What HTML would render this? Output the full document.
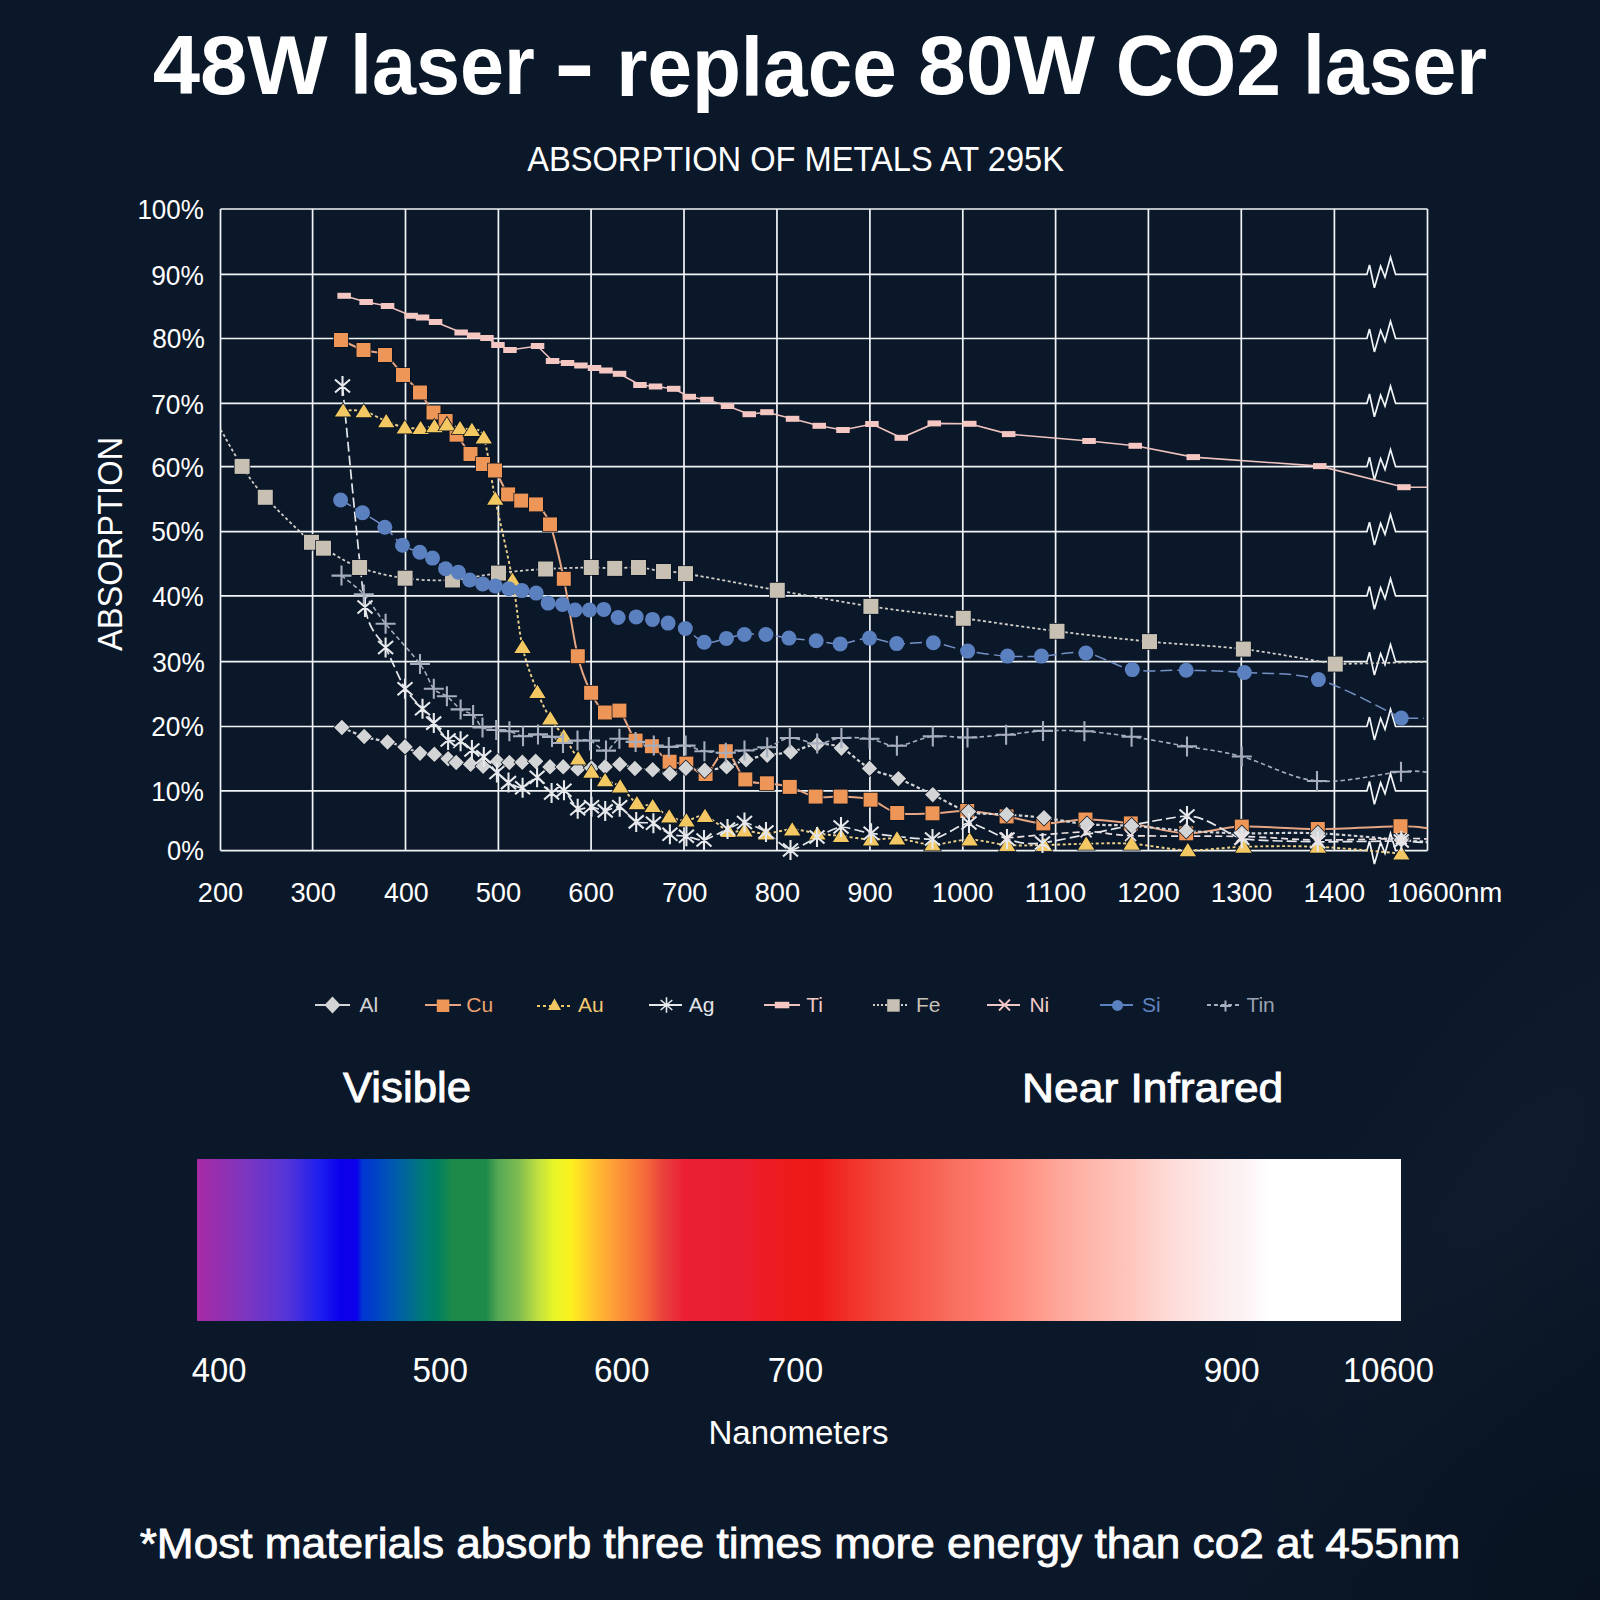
<!DOCTYPE html><html><head><meta charset="utf-8"><title>48W laser</title><style>html,body{margin:0;padding:0;background:#0b1829;}svg{display:block}text{font-family:"Liberation Sans",Arial,sans-serif;}</style></head><body>
<svg width="1600" height="1600" viewBox="0 0 1600 1600">
<defs><linearGradient id="spec" x1="197" x2="1401" y1="0" y2="0" gradientUnits="userSpaceOnUse">
<stop offset="0.0000" stop-color="#a82aa4"/>
<stop offset="0.0424" stop-color="#7a36c0"/>
<stop offset="0.0748" stop-color="#5535d8"/>
<stop offset="0.1038" stop-color="#1a1cf0"/>
<stop offset="0.1188" stop-color="#0c00ea"/>
<stop offset="0.1329" stop-color="#0c00ea"/>
<stop offset="0.1370" stop-color="#0036d2"/>
<stop offset="0.1470" stop-color="#0040c8"/>
<stop offset="0.1678" stop-color="#0060a8"/>
<stop offset="0.1869" stop-color="#00787a"/>
<stop offset="0.2002" stop-color="#008060"/>
<stop offset="0.2118" stop-color="#1e8a4a"/>
<stop offset="0.2400" stop-color="#1e8a4a"/>
<stop offset="0.2500" stop-color="#55a855"/>
<stop offset="0.2674" stop-color="#80bc50"/>
<stop offset="0.2832" stop-color="#c0e040"/>
<stop offset="0.2965" stop-color="#e8f528"/>
<stop offset="0.3106" stop-color="#fbf01e"/>
<stop offset="0.3239" stop-color="#ffcf2a"/>
<stop offset="0.3397" stop-color="#ffaa35"/>
<stop offset="0.3563" stop-color="#fb8a38"/>
<stop offset="0.3721" stop-color="#f46a3a"/>
<stop offset="0.3879" stop-color="#e8403c"/>
<stop offset="0.4045" stop-color="#ec2035"/>
<stop offset="0.4527" stop-color="#ea1e32"/>
<stop offset="0.4684" stop-color="#ec1c26"/>
<stop offset="0.4975" stop-color="#ee1a1a"/>
<stop offset="0.5150" stop-color="#ee1818"/>
<stop offset="0.5407" stop-color="#f03028"/>
<stop offset="0.5731" stop-color="#f44a3e"/>
<stop offset="0.6055" stop-color="#f85e50"/>
<stop offset="0.6296" stop-color="#f87060"/>
<stop offset="0.6537" stop-color="#fe7a6e"/>
<stop offset="0.6852" stop-color="#fe9080"/>
<stop offset="0.7176" stop-color="#fea89c"/>
<stop offset="0.7458" stop-color="#feb8ac"/>
<stop offset="0.7782" stop-color="#fec8c0"/>
<stop offset="0.8098" stop-color="#fedcd8"/>
<stop offset="0.8422" stop-color="#fceaea"/>
<stop offset="0.8746" stop-color="#fcf4f6"/>
<stop offset="0.8904" stop-color="#ffffff"/>
<stop offset="1.0000" stop-color="#ffffff"/>
</linearGradient>
<radialGradient id="glow" cx="0" cy="0" r="1" gradientUnits="userSpaceOnUse" gradientTransform="translate(1500 1200) rotate(-55) scale(480 170)"><stop offset="0" stop-color="#1a2638" stop-opacity="0.3"/><stop offset="1" stop-color="#15253b" stop-opacity="0"/></radialGradient>
<radialGradient id="dark" cx="0" cy="0" r="1" gradientUnits="userSpaceOnUse" gradientTransform="translate(1600 1600) scale(420 420)"><stop offset="0" stop-color="#050d18" stop-opacity="0.45"/><stop offset="1" stop-color="#050d18" stop-opacity="0"/></radialGradient>
</defs>
<rect width="1600" height="1600" fill="#0b1829"/>
<rect width="1600" height="1600" fill="url(#glow)"/>
<rect width="1600" height="1600" fill="url(#dark)"/>
<path d="M220.50 209.0V850.6M312.60 209.0V850.6M405.50 209.0V850.6M498.40 209.0V850.6M591.10 209.0V850.6M684.00 209.0V850.6M776.95 209.0V850.6M869.90 209.0V850.6M962.80 209.0V850.6M1055.60 209.0V850.6M1148.40 209.0V850.6M1241.30 209.0V850.6M1334.40 209.0V850.6M1427.50 209.0V850.6M220.5 209.0H1427.5M220.5 274.4H1366.9L1369.5 265.0L1374.4 287.8L1380.6 266.2L1385.0 277.2L1390.5 257.2L1395.6 274.4H1427.5M220.5 338.5H1366.9L1369.5 329.1L1374.4 351.9L1380.6 330.3L1385.0 341.3L1390.5 321.3L1395.6 338.5H1427.5M220.5 403.4H1366.9L1369.5 394.0L1374.4 416.8L1380.6 395.2L1385.0 406.2L1390.5 386.2L1395.6 403.4H1427.5M220.5 466.7H1366.9L1369.5 457.3L1374.4 480.1L1380.6 458.5L1385.0 469.5L1390.5 449.5L1395.6 466.7H1427.5M220.5 531.6H1366.9L1369.5 522.2L1374.4 545.0L1380.6 523.4L1385.0 534.4L1390.5 514.4L1395.6 531.6H1427.5M220.5 595.9H1366.9L1369.5 586.5L1374.4 609.3L1380.6 587.7L1385.0 598.7L1390.5 578.7L1395.6 595.9H1427.5M220.5 661.7H1366.9L1369.5 652.3L1374.4 675.1L1380.6 653.5L1385.0 664.5L1390.5 644.5L1395.6 661.7H1427.5M220.5 726.5H1366.9L1369.5 717.1L1374.4 739.9L1380.6 718.3L1385.0 729.3L1390.5 709.3L1395.6 726.5H1427.5M220.5 790.9H1366.9L1369.5 781.5L1374.4 804.3L1380.6 782.7L1385.0 793.7L1390.5 773.7L1395.6 790.9H1427.5M220.5 850.6H1366.9L1369.5 841.2L1374.4 864.0L1380.6 842.4L1385.0 853.4L1390.5 833.4L1395.6 850.6H1427.5" fill="none" stroke="#f2f5f8" stroke-width="1.7" stroke-linejoin="miter"/>
<text transform="translate(121.7 651.0) rotate(-90)" x="0" y="0" font-size="35.3" fill="#ffffff" textLength="214.2" lengthAdjust="spacingAndGlyphs">ABSORPTION</text>
<text x="152.70" y="94.00" font-size="84.31" font-weight="bold" fill="#ffffff" textLength="174.80" lengthAdjust="spacingAndGlyphs">48W</text>
<text x="350.00" y="94.00" font-size="83.29" font-weight="bold" fill="#ffffff" textLength="184.75" lengthAdjust="spacingAndGlyphs">laser</text>
<text x="554.00" y="92.50" font-size="86.78" font-weight="bold" fill="#ffffff" textLength="41.00" lengthAdjust="spacingAndGlyphs">-</text>
<text x="616.25" y="95.50" font-size="83.89" font-weight="bold" fill="#ffffff" textLength="280.50" lengthAdjust="spacingAndGlyphs">replace</text>
<text x="918.00" y="94.00" font-size="84.31" font-weight="bold" fill="#ffffff" textLength="176.80" lengthAdjust="spacingAndGlyphs">80W</text>
<text x="1115.80" y="95.00" font-size="86.00" font-weight="bold" fill="#ffffff" textLength="165.20" lengthAdjust="spacingAndGlyphs">CO2</text>
<text x="1303.00" y="94.00" font-size="83.29" font-weight="bold" fill="#ffffff" textLength="184.00" lengthAdjust="spacingAndGlyphs">laser</text>
<text x="527.20" y="171.40" font-size="34.80" fill="#ffffff" textLength="536.80" lengthAdjust="spacingAndGlyphs">ABSORPTION OF METALS AT 295K</text>
<text x="343.00" y="1102.20" font-size="41.95" fill="#ffffff" stroke="#ffffff" stroke-width="0.9" textLength="128.00" lengthAdjust="spacingAndGlyphs">Visible</text>
<text x="1022.10" y="1102.10" font-size="40.39" fill="#ffffff" stroke="#ffffff" stroke-width="0.9" textLength="261.15" lengthAdjust="spacingAndGlyphs">Near Infrared</text>
<text x="708.40" y="1443.75" font-size="34.05" fill="#ffffff" textLength="180.10" lengthAdjust="spacingAndGlyphs">Nanometers</text>
<text x="139.70" y="1557.50" font-size="42.19" fill="#ffffff" stroke="#ffffff" stroke-width="0.8" textLength="1320.50" lengthAdjust="spacingAndGlyphs">*Most materials absorb three times more energy than co2 at 455nm</text>
<text x="137.40" y="218.90" font-size="28.20" fill="#ffffff" textLength="66.40" lengthAdjust="spacingAndGlyphs">100%</text>
<text x="151.20" y="284.50" font-size="28.20" fill="#ffffff" textLength="52.60" lengthAdjust="spacingAndGlyphs">90%</text>
<text x="152.20" y="348.40" font-size="28.20" fill="#ffffff" textLength="52.60" lengthAdjust="spacingAndGlyphs">80%</text>
<text x="151.20" y="413.50" font-size="28.20" fill="#ffffff" textLength="52.60" lengthAdjust="spacingAndGlyphs">70%</text>
<text x="151.20" y="477.20" font-size="28.20" fill="#ffffff" textLength="52.60" lengthAdjust="spacingAndGlyphs">60%</text>
<text x="151.20" y="541.30" font-size="28.20" fill="#ffffff" textLength="52.60" lengthAdjust="spacingAndGlyphs">50%</text>
<text x="152.20" y="606.00" font-size="28.20" fill="#ffffff" textLength="51.60" lengthAdjust="spacingAndGlyphs">40%</text>
<text x="152.20" y="672.20" font-size="28.20" fill="#ffffff" textLength="52.60" lengthAdjust="spacingAndGlyphs">30%</text>
<text x="151.20" y="736.40" font-size="28.20" fill="#ffffff" textLength="52.60" lengthAdjust="spacingAndGlyphs">20%</text>
<text x="151.20" y="801.00" font-size="28.20" fill="#ffffff" textLength="52.60" lengthAdjust="spacingAndGlyphs">10%</text>
<text x="167.00" y="860.30" font-size="28.20" fill="#ffffff" textLength="36.80" lengthAdjust="spacingAndGlyphs">0%</text>
<text x="197.75" y="902.30" font-size="28.50" fill="#ffffff" textLength="45.50" lengthAdjust="spacingAndGlyphs">200</text>
<text x="290.40" y="902.30" font-size="28.50" fill="#ffffff" textLength="45.50" lengthAdjust="spacingAndGlyphs">300</text>
<text x="384.05" y="902.30" font-size="28.50" fill="#ffffff" textLength="44.50" lengthAdjust="spacingAndGlyphs">400</text>
<text x="475.70" y="902.30" font-size="28.50" fill="#ffffff" textLength="45.50" lengthAdjust="spacingAndGlyphs">500</text>
<text x="568.35" y="902.30" font-size="28.50" fill="#ffffff" textLength="45.50" lengthAdjust="spacingAndGlyphs">600</text>
<text x="662.00" y="902.30" font-size="28.50" fill="#ffffff" textLength="45.50" lengthAdjust="spacingAndGlyphs">700</text>
<text x="754.65" y="902.30" font-size="28.50" fill="#ffffff" textLength="45.50" lengthAdjust="spacingAndGlyphs">800</text>
<text x="847.30" y="902.30" font-size="28.50" fill="#ffffff" textLength="45.50" lengthAdjust="spacingAndGlyphs">900</text>
<text x="931.85" y="902.30" font-size="28.50" fill="#ffffff" textLength="61.70" lengthAdjust="spacingAndGlyphs">1000</text>
<text x="1024.50" y="902.30" font-size="28.50" fill="#ffffff" textLength="61.70" lengthAdjust="spacingAndGlyphs">1100</text>
<text x="1117.15" y="902.30" font-size="28.50" fill="#ffffff" textLength="62.70" lengthAdjust="spacingAndGlyphs">1200</text>
<text x="1210.80" y="902.30" font-size="28.50" fill="#ffffff" textLength="61.70" lengthAdjust="spacingAndGlyphs">1300</text>
<text x="1303.45" y="902.30" font-size="28.50" fill="#ffffff" textLength="61.70" lengthAdjust="spacingAndGlyphs">1400</text>
<text x="1387.00" y="902.30" font-size="28.50" fill="#ffffff" textLength="115.30" lengthAdjust="spacingAndGlyphs">10600nm</text>
<text x="191.75" y="1382.10" font-size="35.07" fill="#ffffff" textLength="54.65" lengthAdjust="spacingAndGlyphs">400</text>
<text x="412.60" y="1382.10" font-size="35.07" fill="#ffffff" textLength="55.50" lengthAdjust="spacingAndGlyphs">500</text>
<text x="594.00" y="1382.10" font-size="35.07" fill="#ffffff" textLength="55.60" lengthAdjust="spacingAndGlyphs">600</text>
<text x="767.75" y="1382.10" font-size="35.07" fill="#ffffff" textLength="55.35" lengthAdjust="spacingAndGlyphs">700</text>
<text x="1203.70" y="1382.10" font-size="35.07" fill="#ffffff" textLength="55.90" lengthAdjust="spacingAndGlyphs">900</text>
<text x="1343.00" y="1382.10" font-size="35.07" fill="#ffffff" textLength="91.00" lengthAdjust="spacingAndGlyphs">10600</text>
<path d="M344.2 295.8L366.2 302.0L387.5 306.0L411.2 315.8L422.5 317.5L435.5 322.0L461.2 332.5L473.7 335.5L487.0 338.0L498.0 345.0L510.0 350.0L537.5 346.0L552.5 361.0L567.5 363.0L581.0 365.5L594.5 368.0L606.0 370.5L619.5 373.8L640.0 385.0L655.5 386.5L673.8 388.8L689.2 396.8L707.0 399.8L727.5 406.0L749.2 414.2L767.0 412.2L792.5 418.8L819.2 425.8L843.0 430.0L872.0 424.0L901.3 437.8L934.3 423.4L969.7 423.8L1008.6 434.1L1089.1 441.0L1135.2 445.8L1193.2 457.1L1319.7 466.1L1404.0 487.2L1427.5 487.2" fill="none" stroke="#eec3bf" stroke-width="1.6"/>
<path d="M220.7 429.6C224.3 435.7 234.7 455.1 242.1 466.4C249.5 477.7 253.7 484.6 265.3 497.2C276.9 509.9 301.8 533.8 311.5 542.3C321.2 550.8 315.5 544.0 323.5 548.2C331.5 552.4 346.0 562.5 359.6 567.5C373.2 572.5 389.6 576.1 405.1 578.2C420.6 580.3 436.9 580.9 452.5 580.0C468.1 579.1 483.0 574.9 498.5 573.1C514.0 571.3 530.1 569.9 545.6 569.0C561.1 568.1 579.7 567.6 591.2 567.5C602.8 567.4 606.9 568.4 614.8 568.4C622.6 568.4 630.4 567.0 638.5 567.5C646.6 568.0 655.7 570.5 663.5 571.5C671.3 572.5 666.5 570.5 685.5 573.6C704.5 576.7 746.4 584.8 777.3 590.3C808.2 595.8 839.9 601.7 870.9 606.4C901.9 611.1 932.3 614.2 963.3 618.3C994.3 622.4 1026.0 627.4 1057.0 631.2C1088.0 635.1 1118.4 638.6 1149.5 641.6C1180.6 644.6 1212.4 645.4 1243.4 649.1C1274.4 652.9 1320.0 661.6 1335.3 664.1L1427.5 661.8" fill="none" stroke="#d2cec7" stroke-width="1.8" stroke-dasharray="3 2.5"/>
<path d="M341.0 340.0C344.8 341.7 356.2 347.5 363.5 350.0C370.8 352.5 378.4 350.8 385.0 355.0C391.6 359.2 397.2 368.8 403.0 375.0C408.8 381.2 414.9 386.2 420.0 392.5C425.1 398.8 429.2 407.8 433.5 412.5C437.8 417.2 441.8 417.3 445.6 421.0C449.5 424.7 452.5 429.2 456.6 434.7C460.8 440.2 466.1 449.1 470.5 454.0C474.9 458.9 478.9 461.2 483.0 464.0C487.1 466.8 490.8 465.4 495.0 470.5C499.2 475.6 503.7 489.4 508.1 494.4C512.5 499.4 516.6 498.9 521.2 500.6C525.9 502.3 531.2 500.4 536.0 504.4C540.8 508.4 545.4 512.0 550.0 524.4C554.6 536.8 559.1 556.8 563.8 578.8C568.4 600.7 573.2 637.2 577.8 656.2C582.3 675.3 586.6 683.4 591.1 692.8C595.6 702.2 600.3 709.5 605.0 712.5C609.7 715.5 614.3 705.9 619.4 710.6C624.5 715.3 630.2 734.7 635.6 740.6C641.0 746.5 646.2 742.7 651.9 746.2C657.6 749.8 663.9 758.8 669.6 761.7C675.3 764.6 680.3 761.6 686.3 763.6C692.3 765.6 699.0 776.1 705.6 774.0C712.2 771.9 719.2 750.4 725.8 751.2C732.4 752.1 738.4 774.1 745.3 779.4C752.1 784.7 759.5 782.0 766.9 783.3C774.3 784.5 781.7 784.7 789.8 786.9C797.9 789.1 807.1 795.0 815.6 796.6C824.1 798.2 831.4 796.1 840.6 796.6C849.8 797.1 861.2 797.0 870.6 799.7C880.0 802.4 886.9 810.7 897.2 813.0C907.5 815.3 920.8 813.6 932.5 813.3C944.2 813.0 954.9 810.5 967.2 811.0C979.6 811.5 993.9 814.3 1006.6 816.4C1019.3 818.5 1030.1 822.9 1043.3 823.4C1056.5 823.9 1070.9 819.5 1085.5 819.5C1100.1 819.5 1114.0 821.1 1130.8 823.4C1147.6 825.7 1167.7 832.8 1186.2 833.3C1204.7 833.8 1219.9 827.3 1241.8 826.6C1263.7 825.9 1291.3 829.1 1317.8 829.0C1344.2 828.9 1382.2 826.3 1400.5 826.2C1418.8 826.1 1423.0 827.9 1427.5 828.2" fill="none" stroke="#e7a582" stroke-width="2"/>
<path d="M341.9 727.5C345.6 729.0 356.6 734.1 364.2 736.5C371.8 738.9 380.7 740.3 387.5 742.0C394.3 743.7 399.6 745.0 405.0 746.9C410.4 748.8 415.1 751.9 420.0 753.1C424.9 754.4 429.7 753.5 434.4 754.4C439.1 755.3 444.5 757.4 448.1 758.8C451.7 760.1 452.5 761.6 456.2 762.5C460.0 763.4 466.1 763.8 470.6 764.4C475.1 765.0 478.6 766.8 483.1 766.2C487.6 765.7 493.1 761.9 497.5 761.2C501.9 760.6 505.3 762.3 509.4 762.5C513.5 762.7 517.9 762.4 522.3 762.2C526.7 762.0 531.0 760.5 535.6 761.2C540.2 762.0 545.4 766.0 550.0 766.9C554.6 767.8 558.6 766.6 563.2 766.9C567.9 767.2 573.2 768.7 577.9 768.9C582.6 769.1 587.0 768.3 591.5 768.0C596.0 767.7 600.4 767.5 605.1 766.9C609.8 766.3 614.8 764.0 619.8 764.3C624.8 764.6 629.4 767.6 634.9 768.5C640.4 769.4 646.8 768.9 652.6 769.8C658.4 770.7 664.4 774.0 669.9 773.8C675.4 773.5 680.1 768.8 685.9 768.2C691.7 767.6 697.9 770.4 704.7 770.2C711.5 770.0 719.7 768.6 726.6 766.9C733.5 765.2 739.3 761.8 746.1 759.8C752.9 757.8 759.8 756.5 767.2 755.2C774.6 753.9 782.3 753.8 790.6 752.0C798.9 750.2 808.7 744.9 817.2 744.2C825.7 743.6 832.7 744.1 841.4 748.1C850.1 752.1 860.0 763.3 869.5 768.4C879.0 773.5 887.9 774.2 898.4 778.6C908.9 783.0 921.1 789.1 932.8 794.6C944.5 800.1 956.2 808.3 968.5 811.6C980.8 814.9 994.0 813.5 1006.6 814.5C1019.2 815.5 1030.6 816.2 1044.0 817.8C1057.4 819.4 1072.4 822.9 1087.0 824.2C1101.6 825.5 1115.1 824.7 1131.6 825.8C1148.1 826.9 1167.8 829.5 1186.2 830.8C1204.6 832.0 1219.9 832.9 1241.8 833.3C1263.7 833.7 1291.2 832.2 1317.8 833.3C1344.4 834.4 1383.0 838.5 1401.3 840.0C1419.6 841.5 1423.1 841.7 1427.5 842.0" fill="none" stroke="#d3d4d6" stroke-width="2.2" stroke-dasharray="3.5 2.5"/>
<path d="M343.1 410.6C346.5 410.7 356.6 409.5 363.8 411.2C370.9 413.0 379.4 418.5 386.2 421.2C393.1 424.0 399.0 426.4 404.8 427.5C410.5 428.6 415.7 428.3 420.6 428.1C425.5 427.9 430.0 426.9 434.4 426.2C438.8 425.6 442.6 424.1 446.9 424.4C451.2 424.7 455.8 427.2 460.0 428.1C464.2 429.0 467.9 428.4 471.9 430.0C475.9 431.6 479.9 426.0 483.8 437.5C487.6 449.0 490.5 475.0 495.2 498.8C500.0 522.5 508.0 555.3 512.5 580.0C517.0 604.7 518.4 628.2 522.5 646.9C526.6 665.5 532.8 680.0 537.4 691.9C542.0 703.8 545.9 711.1 550.3 718.5C554.7 725.9 559.1 729.6 563.8 736.2C568.4 742.9 573.6 752.6 578.2 758.5C582.8 764.4 586.9 768.2 591.4 771.8C595.9 775.4 600.3 777.8 605.1 780.3C609.9 782.8 614.9 782.7 620.2 786.5C625.5 790.3 631.5 800.0 636.9 803.3C642.3 806.6 647.3 803.9 652.7 806.1C658.1 808.3 663.6 814.0 669.2 816.4C674.8 818.8 680.4 820.6 686.4 820.5C692.4 820.4 698.0 814.2 705.0 816.0C712.0 817.8 721.9 828.6 728.5 831.0C735.1 833.4 738.2 830.1 744.5 830.5C750.8 830.9 758.0 833.7 766.0 833.5C774.0 833.3 783.6 829.4 792.2 829.4C800.8 829.4 809.3 832.4 817.4 833.5C825.5 834.6 832.0 835.0 841.0 836.0C850.0 837.0 861.8 839.1 871.1 839.5C880.4 839.9 886.8 837.7 897.0 838.5C907.2 839.3 920.4 844.3 932.5 844.5C944.6 844.7 957.1 839.5 969.6 839.6C982.1 839.7 994.8 844.1 1007.2 845.0C1019.6 845.9 1030.8 845.2 1044.0 845.0C1057.2 844.8 1071.7 844.0 1086.2 843.8C1100.8 843.5 1114.7 842.7 1131.6 843.8C1148.5 844.8 1169.1 849.7 1187.8 850.2C1206.5 850.7 1221.8 847.4 1243.5 846.8C1265.2 846.2 1291.5 845.7 1317.8 846.8C1344.1 847.9 1387.4 852.5 1401.3 853.6" fill="none" stroke="#efd08a" stroke-width="1.9" stroke-dasharray="3 2.5"/>
<path d="M342.5 386.0C344.8 408.1 360.7 580.9 365.0 607.0C369.3 633.1 381.6 639.3 385.6 647.5C389.6 655.7 401.3 682.6 405.0 688.8C408.7 694.9 419.6 705.3 422.5 708.8C425.4 712.2 431.2 720.0 433.8 723.1C436.3 726.2 445.4 738.2 448.1 740.0C450.8 741.8 458.2 740.2 460.6 741.2C463.0 742.2 469.6 748.4 471.9 750.0C474.2 751.6 481.2 754.6 483.8 756.9C486.2 759.1 494.4 769.9 496.9 772.5C499.4 775.1 505.9 781.1 508.5 782.6C511.1 784.1 519.7 788.3 522.6 787.8C525.5 787.3 534.2 776.7 537.1 777.2C540.0 777.7 548.9 791.7 551.6 793.0C554.3 794.3 561.4 788.7 564.0 790.3C566.6 791.9 575.0 807.1 577.7 808.8C580.5 810.4 588.8 806.6 591.5 806.8C594.2 807.0 602.4 810.9 605.2 810.9C608.0 810.9 616.6 805.7 619.7 806.8C622.8 807.9 632.8 820.2 636.2 821.9C639.6 823.5 650.0 822.1 653.4 823.3C656.8 824.5 666.6 833.0 669.9 834.3C673.2 835.6 683.0 835.7 686.4 836.3C689.8 836.9 699.9 840.7 704.0 840.0C708.1 839.3 723.5 830.8 727.5 829.0C731.5 827.2 740.6 822.2 744.5 822.5C748.4 822.8 761.4 829.2 766.0 832.0C770.6 834.8 785.4 849.5 790.5 850.0C795.6 850.5 812.0 839.3 817.0 837.0C822.0 834.7 835.6 827.4 841.0 827.0C846.4 826.6 862.0 832.1 871.1 833.3C880.2 834.5 922.7 840.0 932.5 839.0C942.3 838.0 961.5 823.0 969.0 823.0C976.5 823.0 999.6 837.0 1007.0 839.0C1014.4 841.0 1024.5 845.3 1042.5 843.0C1060.5 840.7 1167.1 816.5 1187.0 816.0C1206.9 815.5 1228.7 835.8 1241.8 838.4C1254.9 841.0 1301.8 841.5 1317.8 841.8C1333.8 842.0 1390.3 840.9 1401.3 841.0C1412.3 841.1 1424.9 842.8 1427.5 843.0" fill="none" stroke="#e6e8ec" stroke-width="1.7" stroke-dasharray="10 4"/>
<path d="M1006.6 838.0C1019.9 837.0 1065.4 832.3 1086.1 831.9C1106.8 831.5 1104.6 834.8 1130.6 835.6C1156.5 836.4 1210.6 835.8 1241.8 836.5C1273.0 837.2 1291.2 839.7 1317.8 840.0C1344.4 840.3 1383.0 838.7 1401.3 838.5C1419.6 838.3 1423.1 838.9 1427.5 839.0" fill="none" stroke="#ece0e2" stroke-width="1.7" stroke-dasharray="7 4"/>
<path d="M340.6 500.0C344.2 502.1 355.1 508.2 362.5 512.8C369.9 517.3 378.1 521.8 384.8 527.2C391.4 532.7 396.7 541.1 402.5 545.2C408.3 549.4 414.8 550.1 419.8 552.2C424.8 554.4 428.2 555.4 432.5 558.1C436.8 560.8 441.3 566.4 445.6 568.7C449.9 571.1 454.4 570.3 458.4 572.2C462.4 574.1 465.7 578.0 469.7 580.0C473.7 582.0 478.3 582.9 482.6 583.9C486.9 584.9 490.9 585.1 495.3 585.9C499.7 586.7 504.3 587.9 508.8 588.7C513.2 589.5 517.3 589.9 521.9 590.6C526.5 591.3 531.9 591.0 536.2 593.1C540.6 595.2 543.7 601.2 548.1 603.1C552.5 605.0 558.0 603.2 562.5 604.4C567.0 605.5 570.5 609.1 575.0 610.0C579.5 610.9 584.6 610.1 589.4 610.0C594.2 609.9 599.0 608.1 603.8 609.4C608.5 610.6 612.7 616.2 618.1 617.5C623.5 618.8 630.5 616.6 636.2 616.9C642.0 617.2 647.2 618.4 652.5 619.4C657.8 620.4 662.6 621.6 668.1 623.1C673.6 624.6 679.3 625.3 685.3 628.5C691.3 631.7 697.4 640.6 704.2 642.3C711.1 643.9 719.7 639.7 726.4 638.4C733.1 637.1 737.8 635.1 744.4 634.5C751.0 633.9 758.5 633.9 765.9 634.5C773.3 635.1 780.5 637.1 788.9 638.1C797.3 639.1 807.7 639.8 816.2 640.8C824.8 641.8 831.3 644.3 840.2 643.9C849.1 643.5 860.1 638.1 869.5 638.1C878.9 638.1 886.1 642.8 896.7 643.6C907.3 644.4 921.5 641.5 933.3 642.8C945.1 644.0 955.3 648.9 967.7 651.1C980.1 653.3 995.2 655.3 1007.5 656.1C1019.8 656.9 1028.3 656.6 1041.4 656.1C1054.5 655.6 1070.8 650.8 1085.9 653.0C1101.1 655.2 1115.6 666.7 1132.3 669.6C1149.0 672.5 1167.6 669.8 1186.2 670.2C1204.9 670.7 1222.4 670.9 1244.4 672.5C1266.4 674.1 1292.2 672.0 1318.4 679.6C1344.6 687.2 1387.5 711.7 1401.3 718.1L1424.0 718.3" fill="none" stroke="#7590c6" stroke-width="1.5" stroke-dasharray="12 5"/>
<path d="M341.5 575.6C345.2 578.7 356.4 586.4 363.8 594.4C371.1 602.4 376.2 612.1 385.6 623.8C395.0 635.4 412.0 653.2 420.0 664.0C428.0 674.8 429.3 683.4 433.8 688.8C438.2 694.1 442.4 692.8 446.9 696.2C451.4 699.7 456.2 706.3 460.6 709.4C465.0 712.5 469.5 712.0 473.1 715.0C476.8 718.0 478.6 725.0 482.5 727.5C486.4 730.0 491.8 729.4 496.2 730.0C500.7 730.6 504.9 730.2 509.4 731.2C513.9 732.3 518.2 735.7 523.0 736.2C527.8 736.8 533.2 734.3 538.0 734.4C542.8 734.5 547.8 735.5 552.0 736.9C556.2 738.3 558.8 742.4 563.0 743.0C567.2 743.6 573.0 741.0 577.5 740.6C582.0 740.2 585.2 738.9 590.0 740.6C594.8 742.3 601.1 750.9 606.0 750.6C610.9 750.3 614.5 740.2 619.4 738.8C624.3 737.3 629.9 740.8 635.6 741.9C641.3 743.0 648.2 744.8 653.8 745.6C659.3 746.4 663.4 746.9 668.8 746.9C674.1 746.9 679.7 744.9 685.6 745.6C691.5 746.3 697.7 750.0 704.4 751.2C711.1 752.5 719.1 752.9 725.8 752.8C732.5 752.7 737.6 751.4 744.5 750.5C751.4 749.6 759.7 749.4 767.2 747.3C774.8 745.2 781.5 738.6 789.8 738.0C798.1 737.4 808.6 743.4 817.2 743.4C825.8 743.4 832.7 738.8 841.4 738.0C850.1 737.2 860.2 737.5 869.5 738.8C878.8 740.0 886.4 746.2 896.9 745.8C907.4 745.4 921.0 737.8 932.8 736.4C944.6 735.0 955.3 737.8 967.5 737.5C979.7 737.2 993.5 735.8 1006.1 734.7C1018.7 733.6 1030.0 731.5 1043.0 730.9C1056.0 730.3 1069.6 730.3 1084.4 731.2C1099.2 732.2 1114.5 734.2 1131.6 736.7C1148.7 739.2 1168.6 743.1 1187.0 746.4C1205.4 749.7 1220.1 750.7 1241.8 756.5C1263.5 762.3 1290.5 778.5 1317.0 781.0C1343.5 783.5 1382.6 773.2 1401.0 771.7C1419.4 770.2 1423.1 772.1 1427.5 772.2" fill="none" stroke="#a6adbd" stroke-width="1.6" stroke-dasharray="4.5 3"/>
<rect x="337.4" y="292.8" width="13.5" height="6.0" fill="#f5c7c3"/><rect x="359.4" y="299.0" width="13.5" height="6.0" fill="#f5c7c3"/><rect x="380.8" y="303.0" width="13.5" height="6.0" fill="#f5c7c3"/><rect x="404.4" y="312.8" width="13.5" height="6.0" fill="#f5c7c3"/><rect x="415.8" y="314.5" width="13.5" height="6.0" fill="#f5c7c3"/><rect x="428.8" y="319.0" width="13.5" height="6.0" fill="#f5c7c3"/><rect x="454.4" y="329.5" width="13.5" height="6.0" fill="#f5c7c3"/><rect x="466.9" y="332.5" width="13.5" height="6.0" fill="#f5c7c3"/><rect x="480.2" y="335.0" width="13.5" height="6.0" fill="#f5c7c3"/><rect x="491.2" y="342.0" width="13.5" height="6.0" fill="#f5c7c3"/><rect x="503.2" y="347.0" width="13.5" height="6.0" fill="#f5c7c3"/><rect x="530.8" y="343.0" width="13.5" height="6.0" fill="#f5c7c3"/><rect x="545.8" y="358.0" width="13.5" height="6.0" fill="#f5c7c3"/><rect x="560.8" y="360.0" width="13.5" height="6.0" fill="#f5c7c3"/><rect x="574.2" y="362.5" width="13.5" height="6.0" fill="#f5c7c3"/><rect x="587.8" y="365.0" width="13.5" height="6.0" fill="#f5c7c3"/><rect x="599.2" y="367.5" width="13.5" height="6.0" fill="#f5c7c3"/><rect x="612.8" y="370.8" width="13.5" height="6.0" fill="#f5c7c3"/><rect x="633.2" y="382.0" width="13.5" height="6.0" fill="#f5c7c3"/><rect x="648.8" y="383.5" width="13.5" height="6.0" fill="#f5c7c3"/><rect x="667.0" y="385.8" width="13.5" height="6.0" fill="#f5c7c3"/><rect x="682.5" y="393.8" width="13.5" height="6.0" fill="#f5c7c3"/><rect x="700.2" y="396.8" width="13.5" height="6.0" fill="#f5c7c3"/><rect x="720.8" y="403.0" width="13.5" height="6.0" fill="#f5c7c3"/><rect x="742.5" y="411.2" width="13.5" height="6.0" fill="#f5c7c3"/><rect x="760.2" y="409.2" width="13.5" height="6.0" fill="#f5c7c3"/><rect x="785.8" y="415.8" width="13.5" height="6.0" fill="#f5c7c3"/><rect x="812.5" y="422.8" width="13.5" height="6.0" fill="#f5c7c3"/><rect x="836.2" y="427.0" width="13.5" height="6.0" fill="#f5c7c3"/><rect x="865.2" y="421.0" width="13.5" height="6.0" fill="#f5c7c3"/><rect x="894.5" y="434.8" width="13.5" height="6.0" fill="#f5c7c3"/><rect x="927.5" y="420.4" width="13.5" height="6.0" fill="#f5c7c3"/><rect x="963.0" y="420.8" width="13.5" height="6.0" fill="#f5c7c3"/><rect x="1001.9" y="431.1" width="13.5" height="6.0" fill="#f5c7c3"/><rect x="1082.3" y="438.0" width="13.5" height="6.0" fill="#f5c7c3"/><rect x="1128.5" y="442.8" width="13.5" height="6.0" fill="#f5c7c3"/><rect x="1186.5" y="454.1" width="13.5" height="6.0" fill="#f5c7c3"/><rect x="1313.0" y="463.1" width="13.5" height="6.0" fill="#f5c7c3"/><rect x="1397.2" y="484.2" width="13.5" height="6.0" fill="#f5c7c3"/>
<g stroke="#07111f" stroke-width="1.4" paint-order="stroke" stroke-linejoin="miter">
<rect x="234.6" y="458.9" width="15.0" height="15.0" fill="#c7c0b3"/><rect x="257.8" y="489.8" width="15.0" height="15.0" fill="#c7c0b3"/><rect x="304.0" y="534.8" width="15.0" height="15.0" fill="#c7c0b3"/><rect x="316.0" y="540.7" width="15.0" height="15.0" fill="#c7c0b3"/><rect x="352.1" y="560.0" width="15.0" height="15.0" fill="#c7c0b3"/><rect x="397.6" y="570.7" width="15.0" height="15.0" fill="#c7c0b3"/><rect x="445.0" y="572.5" width="15.0" height="15.0" fill="#c7c0b3"/><rect x="491.0" y="565.6" width="15.0" height="15.0" fill="#c7c0b3"/><rect x="538.1" y="561.5" width="15.0" height="15.0" fill="#c7c0b3"/><rect x="583.8" y="560.0" width="15.0" height="15.0" fill="#c7c0b3"/><rect x="607.2" y="560.9" width="15.0" height="15.0" fill="#c7c0b3"/><rect x="631.0" y="560.0" width="15.0" height="15.0" fill="#c7c0b3"/><rect x="656.0" y="564.0" width="15.0" height="15.0" fill="#c7c0b3"/><rect x="678.0" y="566.1" width="15.0" height="15.0" fill="#c7c0b3"/><rect x="769.8" y="582.8" width="15.0" height="15.0" fill="#c7c0b3"/><rect x="863.4" y="598.9" width="15.0" height="15.0" fill="#c7c0b3"/><rect x="955.8" y="610.8" width="15.0" height="15.0" fill="#c7c0b3"/><rect x="1049.5" y="623.8" width="15.0" height="15.0" fill="#c7c0b3"/><rect x="1142.0" y="634.1" width="15.0" height="15.0" fill="#c7c0b3"/><rect x="1235.9" y="641.6" width="15.0" height="15.0" fill="#c7c0b3"/><rect x="1327.8" y="656.6" width="15.0" height="15.0" fill="#c7c0b3"/>
<rect x="334.0" y="333.0" width="14.0" height="14.0" fill="#ee9657"/><rect x="356.5" y="343.0" width="14.0" height="14.0" fill="#ee9657"/><rect x="378.0" y="348.0" width="14.0" height="14.0" fill="#ee9657"/><rect x="396.0" y="368.0" width="14.0" height="14.0" fill="#ee9657"/><rect x="413.0" y="385.5" width="14.0" height="14.0" fill="#ee9657"/><rect x="426.5" y="405.5" width="14.0" height="14.0" fill="#ee9657"/><rect x="438.6" y="414.0" width="14.0" height="14.0" fill="#ee9657"/><rect x="449.6" y="427.7" width="14.0" height="14.0" fill="#ee9657"/><rect x="463.5" y="447.0" width="14.0" height="14.0" fill="#ee9657"/><rect x="476.0" y="457.0" width="14.0" height="14.0" fill="#ee9657"/><rect x="488.0" y="463.5" width="14.0" height="14.0" fill="#ee9657"/><rect x="501.1" y="487.4" width="14.0" height="14.0" fill="#ee9657"/><rect x="514.2" y="493.6" width="14.0" height="14.0" fill="#ee9657"/><rect x="529.0" y="497.4" width="14.0" height="14.0" fill="#ee9657"/><rect x="543.0" y="517.4" width="14.0" height="14.0" fill="#ee9657"/><rect x="556.8" y="571.8" width="14.0" height="14.0" fill="#ee9657"/><rect x="570.8" y="649.2" width="14.0" height="14.0" fill="#ee9657"/><rect x="584.1" y="685.8" width="14.0" height="14.0" fill="#ee9657"/><rect x="598.0" y="705.5" width="14.0" height="14.0" fill="#ee9657"/><rect x="612.4" y="703.6" width="14.0" height="14.0" fill="#ee9657"/><rect x="628.6" y="733.6" width="14.0" height="14.0" fill="#ee9657"/><rect x="644.9" y="739.2" width="14.0" height="14.0" fill="#ee9657"/><rect x="662.6" y="754.7" width="14.0" height="14.0" fill="#ee9657"/><rect x="679.3" y="756.6" width="14.0" height="14.0" fill="#ee9657"/><rect x="698.6" y="767.0" width="14.0" height="14.0" fill="#ee9657"/><rect x="718.8" y="744.2" width="14.0" height="14.0" fill="#ee9657"/><rect x="738.3" y="772.4" width="14.0" height="14.0" fill="#ee9657"/><rect x="759.9" y="776.3" width="14.0" height="14.0" fill="#ee9657"/><rect x="782.8" y="779.9" width="14.0" height="14.0" fill="#ee9657"/><rect x="808.6" y="789.6" width="14.0" height="14.0" fill="#ee9657"/><rect x="833.6" y="789.6" width="14.0" height="14.0" fill="#ee9657"/><rect x="863.6" y="792.7" width="14.0" height="14.0" fill="#ee9657"/><rect x="890.2" y="806.0" width="14.0" height="14.0" fill="#ee9657"/><rect x="925.5" y="806.3" width="14.0" height="14.0" fill="#ee9657"/><rect x="960.2" y="804.0" width="14.0" height="14.0" fill="#ee9657"/><rect x="999.6" y="809.4" width="14.0" height="14.0" fill="#ee9657"/><rect x="1036.3" y="816.4" width="14.0" height="14.0" fill="#ee9657"/><rect x="1078.5" y="812.5" width="14.0" height="14.0" fill="#ee9657"/><rect x="1123.8" y="816.4" width="14.0" height="14.0" fill="#ee9657"/><rect x="1179.2" y="826.3" width="14.0" height="14.0" fill="#ee9657"/><rect x="1234.8" y="819.6" width="14.0" height="14.0" fill="#ee9657"/><rect x="1310.8" y="822.0" width="14.0" height="14.0" fill="#ee9657"/><rect x="1393.5" y="819.2" width="14.0" height="14.0" fill="#ee9657"/>
<path d="M341.9 719.8L349.6 727.5L341.9 735.2L334.1 727.5Z" fill="#d3d4d6"/><path d="M364.2 728.8L371.9 736.5L364.2 744.2L356.4 736.5Z" fill="#d3d4d6"/><path d="M387.5 734.2L395.2 742.0L387.5 749.8L379.8 742.0Z" fill="#d3d4d6"/><path d="M405.0 739.1L412.8 746.9L405.0 754.6L397.2 746.9Z" fill="#d3d4d6"/><path d="M420.0 745.4L427.8 753.1L420.0 760.9L412.2 753.1Z" fill="#d3d4d6"/><path d="M434.4 746.6L442.1 754.4L434.4 762.1L426.6 754.4Z" fill="#d3d4d6"/><path d="M448.1 751.0L455.9 758.8L448.1 766.5L440.4 758.8Z" fill="#d3d4d6"/><path d="M456.2 754.8L464.0 762.5L456.2 770.2L448.5 762.5Z" fill="#d3d4d6"/><path d="M470.6 756.6L478.4 764.4L470.6 772.1L462.9 764.4Z" fill="#d3d4d6"/><path d="M483.1 758.5L490.9 766.2L483.1 774.0L475.4 766.2Z" fill="#d3d4d6"/><path d="M497.5 753.5L505.2 761.2L497.5 769.0L489.8 761.2Z" fill="#d3d4d6"/><path d="M509.4 754.8L517.1 762.5L509.4 770.2L501.6 762.5Z" fill="#d3d4d6"/><path d="M522.3 754.5L530.0 762.2L522.3 770.0L514.5 762.2Z" fill="#d3d4d6"/><path d="M535.6 753.5L543.4 761.2L535.6 769.0L527.9 761.2Z" fill="#d3d4d6"/><path d="M550.0 759.1L557.8 766.9L550.0 774.6L542.2 766.9Z" fill="#d3d4d6"/><path d="M563.2 759.1L571.0 766.9L563.2 774.6L555.5 766.9Z" fill="#d3d4d6"/><path d="M577.9 761.1L585.6 768.9L577.9 776.6L570.1 768.9Z" fill="#d3d4d6"/><path d="M591.5 760.2L599.2 768.0L591.5 775.8L583.8 768.0Z" fill="#d3d4d6"/><path d="M605.1 759.1L612.9 766.9L605.1 774.6L597.4 766.9Z" fill="#d3d4d6"/><path d="M619.8 756.5L627.5 764.3L619.8 772.0L612.0 764.3Z" fill="#d3d4d6"/><path d="M634.9 760.8L642.6 768.5L634.9 776.2L627.1 768.5Z" fill="#d3d4d6"/><path d="M652.6 762.0L660.4 769.8L652.6 777.5L644.9 769.8Z" fill="#d3d4d6"/><path d="M669.9 766.0L677.6 773.8L669.9 781.5L662.1 773.8Z" fill="#d3d4d6"/><path d="M685.9 760.5L693.6 768.2L685.9 776.0L678.1 768.2Z" fill="#d3d4d6"/><path d="M704.7 762.5L712.5 770.2L704.7 778.0L697.0 770.2Z" fill="#d3d4d6"/><path d="M726.6 759.1L734.4 766.9L726.6 774.6L718.9 766.9Z" fill="#d3d4d6"/><path d="M746.1 752.0L753.9 759.8L746.1 767.5L738.4 759.8Z" fill="#d3d4d6"/><path d="M767.2 747.5L775.0 755.2L767.2 763.0L759.5 755.2Z" fill="#d3d4d6"/><path d="M790.6 744.2L798.4 752.0L790.6 759.8L782.9 752.0Z" fill="#d3d4d6"/><path d="M817.2 736.5L825.0 744.2L817.2 752.0L809.5 744.2Z" fill="#d3d4d6"/><path d="M841.4 740.4L849.1 748.1L841.4 755.9L833.6 748.1Z" fill="#d3d4d6"/><path d="M869.5 760.6L877.2 768.4L869.5 776.1L861.8 768.4Z" fill="#d3d4d6"/><path d="M898.4 770.9L906.1 778.6L898.4 786.4L890.6 778.6Z" fill="#d3d4d6"/><path d="M932.8 786.9L940.5 794.6L932.8 802.4L925.0 794.6Z" fill="#d3d4d6"/><path d="M968.5 803.9L976.2 811.6L968.5 819.4L960.8 811.6Z" fill="#d3d4d6"/><path d="M1006.6 806.8L1014.4 814.5L1006.6 822.2L998.9 814.5Z" fill="#d3d4d6"/><path d="M1044.0 810.0L1051.8 817.8L1044.0 825.5L1036.2 817.8Z" fill="#d3d4d6"/><path d="M1087.0 816.5L1094.8 824.2L1087.0 832.0L1079.2 824.2Z" fill="#d3d4d6"/><path d="M1131.6 818.0L1139.3 825.8L1131.6 833.5L1123.8 825.8Z" fill="#d3d4d6"/><path d="M1186.2 823.0L1194.0 830.8L1186.2 838.5L1178.5 830.8Z" fill="#d3d4d6"/><path d="M1241.8 825.5L1249.5 833.3L1241.8 841.0L1234.0 833.3Z" fill="#d3d4d6"/><path d="M1317.8 825.5L1325.5 833.3L1317.8 841.0L1310.0 833.3Z" fill="#d3d4d6"/><path d="M1401.3 832.2L1409.0 840.0L1401.3 847.8L1393.5 840.0Z" fill="#d3d4d6"/>
<path d="M343.1 403.4L351.3 416.6L334.9 416.6Z" fill="#f3c862"/><path d="M363.8 404.0L371.9 417.2L355.6 417.2Z" fill="#f3c862"/><path d="M386.2 414.0L394.4 427.2L378.1 427.2Z" fill="#f3c862"/><path d="M404.8 420.3L412.9 433.5L396.6 433.5Z" fill="#f3c862"/><path d="M420.6 420.9L428.8 434.1L412.4 434.1Z" fill="#f3c862"/><path d="M434.4 419.0L442.6 432.2L426.2 432.2Z" fill="#f3c862"/><path d="M446.9 417.2L455.1 430.4L438.7 430.4Z" fill="#f3c862"/><path d="M460.0 420.9L468.2 434.1L451.8 434.1Z" fill="#f3c862"/><path d="M471.9 422.8L480.1 436.0L463.7 436.0Z" fill="#f3c862"/><path d="M483.8 430.3L491.9 443.5L475.6 443.5Z" fill="#f3c862"/><path d="M495.2 491.5L503.4 504.8L487.1 504.8Z" fill="#f3c862"/><path d="M512.5 572.8L520.7 586.0L504.3 586.0Z" fill="#f3c862"/><path d="M522.5 639.7L530.7 652.9L514.3 652.9Z" fill="#f3c862"/><path d="M537.4 684.7L545.6 697.9L529.2 697.9Z" fill="#f3c862"/><path d="M550.3 711.3L558.5 724.5L542.1 724.5Z" fill="#f3c862"/><path d="M563.8 729.0L572.0 742.2L555.5 742.2Z" fill="#f3c862"/><path d="M578.2 751.3L586.4 764.5L570.0 764.5Z" fill="#f3c862"/><path d="M591.4 764.6L599.6 777.8L583.2 777.8Z" fill="#f3c862"/><path d="M605.1 773.1L613.3 786.3L596.9 786.3Z" fill="#f3c862"/><path d="M620.2 779.3L628.4 792.5L612.0 792.5Z" fill="#f3c862"/><path d="M636.9 796.1L645.1 809.3L628.7 809.3Z" fill="#f3c862"/><path d="M652.7 798.9L660.9 812.1L644.5 812.1Z" fill="#f3c862"/><path d="M669.2 809.2L677.4 822.4L661.0 822.4Z" fill="#f3c862"/><path d="M686.4 813.3L694.6 826.5L678.2 826.5Z" fill="#f3c862"/><path d="M705.0 808.8L713.2 822.0L696.8 822.0Z" fill="#f3c862"/><path d="M728.5 823.8L736.7 837.0L720.3 837.0Z" fill="#f3c862"/><path d="M744.5 823.3L752.7 836.5L736.3 836.5Z" fill="#f3c862"/><path d="M766.0 826.3L774.2 839.5L757.8 839.5Z" fill="#f3c862"/><path d="M792.2 822.2L800.4 835.4L784.0 835.4Z" fill="#f3c862"/><path d="M817.4 826.3L825.6 839.5L809.2 839.5Z" fill="#f3c862"/><path d="M841.0 828.8L849.2 842.0L832.8 842.0Z" fill="#f3c862"/><path d="M871.1 832.3L879.3 845.5L862.9 845.5Z" fill="#f3c862"/><path d="M897.0 831.3L905.2 844.5L888.8 844.5Z" fill="#f3c862"/><path d="M932.5 837.3L940.7 850.5L924.3 850.5Z" fill="#f3c862"/><path d="M969.6 832.4L977.8 845.6L961.4 845.6Z" fill="#f3c862"/><path d="M1007.2 837.8L1015.4 851.0L999.0 851.0Z" fill="#f3c862"/><path d="M1044.0 837.8L1052.2 851.0L1035.8 851.0Z" fill="#f3c862"/><path d="M1086.2 836.5L1094.5 849.8L1078.0 849.8Z" fill="#f3c862"/><path d="M1131.6 836.5L1139.8 849.8L1123.4 849.8Z" fill="#f3c862"/><path d="M1187.8 843.0L1196.0 856.2L1179.6 856.2Z" fill="#f3c862"/><path d="M1243.5 839.6L1251.7 852.8L1235.3 852.8Z" fill="#f3c862"/><path d="M1317.8 839.6L1326.0 852.8L1309.6 852.8Z" fill="#f3c862"/><path d="M1401.3 846.4L1409.5 859.6L1393.1 859.6Z" fill="#f3c862"/>
</g>
<path d="M342.5 376.0V396.0M335.0 379.5L350.0 392.5M335.0 392.5L350.0 379.5M365.0 597.0V617.0M357.5 600.5L372.5 613.5M357.5 613.5L372.5 600.5M385.6 637.5V657.5M378.1 641.0L393.1 654.0M378.1 654.0L393.1 641.0M405.0 678.8V698.8M397.5 682.2L412.5 695.2M397.5 695.2L412.5 682.2M422.5 698.8V718.8M415.0 702.2L430.0 715.2M415.0 715.2L430.0 702.2M433.8 713.1V733.1M426.2 716.6L441.2 729.6M426.2 729.6L441.2 716.6M448.1 730.0V750.0M440.6 733.5L455.6 746.5M440.6 746.5L455.6 733.5M460.6 731.2V751.2M453.1 734.8L468.1 747.8M453.1 747.8L468.1 734.8M471.9 740.0V760.0M464.4 743.5L479.4 756.5M464.4 756.5L479.4 743.5M483.8 746.9V766.9M476.2 750.4L491.2 763.4M476.2 763.4L491.2 750.4M496.9 762.5V782.5M489.4 766.0L504.4 779.0M489.4 779.0L504.4 766.0M508.5 772.6V792.6M501.0 776.1L516.0 789.1M501.0 789.1L516.0 776.1M522.6 777.8V797.8M515.1 781.3L530.1 794.3M515.1 794.3L530.1 781.3M537.1 767.2V787.2M529.6 770.7L544.6 783.7M529.6 783.7L544.6 770.7M551.6 783.0V803.0M544.1 786.5L559.1 799.5M544.1 799.5L559.1 786.5M564.0 780.3V800.3M556.5 783.8L571.5 796.8M556.5 796.8L571.5 783.8M577.7 798.8V818.8M570.2 802.3L585.2 815.3M570.2 815.3L585.2 802.3M591.5 796.8V816.8M584.0 800.3L599.0 813.3M584.0 813.3L599.0 800.3M605.2 800.9V820.9M597.7 804.4L612.7 817.4M597.7 817.4L612.7 804.4M619.7 796.8V816.8M612.2 800.3L627.2 813.3M612.2 813.3L627.2 800.3M636.2 811.9V831.9M628.7 815.4L643.7 828.4M628.7 828.4L643.7 815.4M653.4 813.3V833.3M645.9 816.8L660.9 829.8M645.9 829.8L660.9 816.8M669.9 824.3V844.3M662.4 827.8L677.4 840.8M662.4 840.8L677.4 827.8M686.4 826.3V846.3M678.9 829.8L693.9 842.8M678.9 842.8L693.9 829.8M704.0 830.0V850.0M696.5 833.5L711.5 846.5M696.5 846.5L711.5 833.5M727.5 819.0V839.0M720.0 822.5L735.0 835.5M720.0 835.5L735.0 822.5M744.5 812.5V832.5M737.0 816.0L752.0 829.0M737.0 829.0L752.0 816.0M766.0 822.0V842.0M758.5 825.5L773.5 838.5M758.5 838.5L773.5 825.5M790.5 840.0V860.0M783.0 843.5L798.0 856.5M783.0 856.5L798.0 843.5M817.0 827.0V847.0M809.5 830.5L824.5 843.5M809.5 843.5L824.5 830.5M841.0 817.0V837.0M833.5 820.5L848.5 833.5M833.5 833.5L848.5 820.5M871.1 823.3V843.3M863.6 826.8L878.6 839.8M863.6 839.8L878.6 826.8M932.5 829.0V849.0M925.0 832.5L940.0 845.5M925.0 845.5L940.0 832.5M969.0 813.0V833.0M961.5 816.5L976.5 829.5M961.5 829.5L976.5 816.5M1007.0 829.0V849.0M999.5 832.5L1014.5 845.5M999.5 845.5L1014.5 832.5M1042.5 833.0V853.0M1035.0 836.5L1050.0 849.5M1035.0 849.5L1050.0 836.5M1187.0 806.0V826.0M1179.5 809.5L1194.5 822.5M1179.5 822.5L1194.5 809.5M1241.8 828.4V848.4M1234.3 831.9L1249.3 844.9M1234.3 844.9L1249.3 831.9M1317.8 831.8V851.8M1310.3 835.2L1325.3 848.2M1310.3 848.2L1325.3 835.2M1401.3 831.0V851.0M1393.8 834.5L1408.8 847.5M1393.8 847.5L1408.8 834.5" fill="none" stroke="#e6e8ec" stroke-width="2.1"/>
<path d="M1001.1 832.5L1012.1 843.5M1001.1 843.5L1012.1 832.5M1080.6 826.4L1091.6 837.4M1080.6 837.4L1091.6 826.4M1125.1 830.1L1136.1 841.1M1125.1 841.1L1136.1 830.1M1236.3 831.0L1247.3 842.0M1236.3 842.0L1247.3 831.0M1312.3 834.5L1323.3 845.5M1312.3 845.5L1323.3 834.5M1395.8 833.0L1406.8 844.0M1395.8 844.0L1406.8 833.0" fill="none" stroke="#ece0e2" stroke-width="1.7"/>
<circle cx="340.6" cy="500.0" r="7.5" fill="#5b80bf"/><circle cx="362.5" cy="512.8" r="7.5" fill="#5b80bf"/><circle cx="384.8" cy="527.2" r="7.5" fill="#5b80bf"/><circle cx="402.5" cy="545.2" r="7.5" fill="#5b80bf"/><circle cx="419.8" cy="552.2" r="7.5" fill="#5b80bf"/><circle cx="432.5" cy="558.1" r="7.5" fill="#5b80bf"/><circle cx="445.6" cy="568.7" r="7.5" fill="#5b80bf"/><circle cx="458.4" cy="572.2" r="7.5" fill="#5b80bf"/><circle cx="469.7" cy="580.0" r="7.5" fill="#5b80bf"/><circle cx="482.6" cy="583.9" r="7.5" fill="#5b80bf"/><circle cx="495.3" cy="585.9" r="7.5" fill="#5b80bf"/><circle cx="508.8" cy="588.7" r="7.5" fill="#5b80bf"/><circle cx="521.9" cy="590.6" r="7.5" fill="#5b80bf"/><circle cx="536.2" cy="593.1" r="7.5" fill="#5b80bf"/><circle cx="548.1" cy="603.1" r="7.5" fill="#5b80bf"/><circle cx="562.5" cy="604.4" r="7.5" fill="#5b80bf"/><circle cx="575.0" cy="610.0" r="7.5" fill="#5b80bf"/><circle cx="589.4" cy="610.0" r="7.5" fill="#5b80bf"/><circle cx="603.8" cy="609.4" r="7.5" fill="#5b80bf"/><circle cx="618.1" cy="617.5" r="7.5" fill="#5b80bf"/><circle cx="636.2" cy="616.9" r="7.5" fill="#5b80bf"/><circle cx="652.5" cy="619.4" r="7.5" fill="#5b80bf"/><circle cx="668.1" cy="623.1" r="7.5" fill="#5b80bf"/><circle cx="685.3" cy="628.5" r="7.5" fill="#5b80bf"/><circle cx="704.2" cy="642.3" r="7.5" fill="#5b80bf"/><circle cx="726.4" cy="638.4" r="7.5" fill="#5b80bf"/><circle cx="744.4" cy="634.5" r="7.5" fill="#5b80bf"/><circle cx="765.9" cy="634.5" r="7.5" fill="#5b80bf"/><circle cx="788.9" cy="638.1" r="7.5" fill="#5b80bf"/><circle cx="816.2" cy="640.8" r="7.5" fill="#5b80bf"/><circle cx="840.2" cy="643.9" r="7.5" fill="#5b80bf"/><circle cx="869.5" cy="638.1" r="7.5" fill="#5b80bf"/><circle cx="896.7" cy="643.6" r="7.5" fill="#5b80bf"/><circle cx="933.3" cy="642.8" r="7.5" fill="#5b80bf"/><circle cx="967.7" cy="651.1" r="7.5" fill="#5b80bf"/><circle cx="1007.5" cy="656.1" r="7.5" fill="#5b80bf"/><circle cx="1041.4" cy="656.1" r="7.5" fill="#5b80bf"/><circle cx="1085.9" cy="653.0" r="7.5" fill="#5b80bf"/><circle cx="1132.3" cy="669.6" r="7.5" fill="#5b80bf"/><circle cx="1186.2" cy="670.2" r="7.5" fill="#5b80bf"/><circle cx="1244.4" cy="672.5" r="7.5" fill="#5b80bf"/><circle cx="1318.4" cy="679.6" r="7.5" fill="#5b80bf"/><circle cx="1401.3" cy="718.1" r="7.5" fill="#5b80bf"/>
<path d="M341.5 565.6V585.6M331.5 575.6H351.5M363.8 584.4V604.4M353.8 594.4H373.8M385.6 613.8V633.8M375.6 623.8H395.6M420.0 654.0V674.0M410.0 664.0H430.0M433.8 678.8V698.8M423.8 688.8H443.8M446.9 686.2V706.2M436.9 696.2H456.9M460.6 699.4V719.4M450.6 709.4H470.6M473.1 705.0V725.0M463.1 715.0H483.1M482.5 717.5V737.5M472.5 727.5H492.5M496.2 720.0V740.0M486.2 730.0H506.2M509.4 721.2V741.2M499.4 731.2H519.4M523.0 726.2V746.2M513.0 736.2H533.0M538.0 724.4V744.4M528.0 734.4H548.0M552.0 726.9V746.9M542.0 736.9H562.0M563.0 733.0V753.0M553.0 743.0H573.0M577.5 730.6V750.6M567.5 740.6H587.5M590.0 730.6V750.6M580.0 740.6H600.0M606.0 740.6V760.6M596.0 750.6H616.0M619.4 728.8V748.8M609.4 738.8H629.4M635.6 731.9V751.9M625.6 741.9H645.6M653.8 735.6V755.6M643.8 745.6H663.8M668.8 736.9V756.9M658.8 746.9H678.8M685.6 735.6V755.6M675.6 745.6H695.6M704.4 741.2V761.2M694.4 751.2H714.4M725.8 742.8V762.8M715.8 752.8H735.8M744.5 740.5V760.5M734.5 750.5H754.5M767.2 737.3V757.3M757.2 747.3H777.2M789.8 728.0V748.0M779.8 738.0H799.8M817.2 733.4V753.4M807.2 743.4H827.2M841.4 728.0V748.0M831.4 738.0H851.4M869.5 728.8V748.8M859.5 738.8H879.5M896.9 735.8V755.8M886.9 745.8H906.9M932.8 726.4V746.4M922.8 736.4H942.8M967.5 727.5V747.5M957.5 737.5H977.5M1006.1 724.7V744.7M996.1 734.7H1016.1M1043.0 720.9V740.9M1033.0 730.9H1053.0M1084.4 721.2V741.2M1074.4 731.2H1094.4M1131.6 726.7V746.7M1121.6 736.7H1141.6M1187.0 736.4V756.4M1177.0 746.4H1197.0M1241.8 746.5V766.5M1231.8 756.5H1251.8M1317.0 771.0V791.0M1307.0 781.0H1327.0M1401.0 761.7V781.7M1391.0 771.7H1411.0" fill="none" stroke="#a6adbd" stroke-width="2.1"/>
<path d="M315 1005h35" stroke="#d3d4d6" stroke-width="2"/>
<path d="M332.5 996.5L340.5 1005.0L332.5 1013.5L324.5 1005.0Z" fill="#d3d4d6"/>
<text x="359.4" y="1012" font-size="21" fill="#d3d4d6">Al</text>
<path d="M425 1005h36" stroke="#e7a582" stroke-width="2"/>
<rect x="436.8" y="999.5" width="12.5" height="12.5" fill="#ee9657"/>
<text x="466.25" y="1012" font-size="21" fill="#eda070">Cu</text>
<path d="M537 1006h35" stroke="#f3c862" stroke-width="2" stroke-dasharray="3 3"/>
<path d="M554.5 998.6L561.0 1010.1L548.0 1010.1Z" fill="#f3c862"/>
<text x="578" y="1012" font-size="21" fill="#f2c870">Au</text>
<path d="M649 1005h33" stroke="#e6e8ec" stroke-width="2"/>
<path d="M666.5 997.2V1012.8M660.7 1000.0L672.3 1010.0M660.7 1010.0L672.3 1000.0" stroke="#e6e8ec" stroke-width="1.6" fill="none"/>
<text x="688.75" y="1012" font-size="21" fill="#e3e5ea">Ag</text>
<path d="M764 1005h36" stroke="#eec3bf" stroke-width="2"/>
<rect x="774.8" y="1001.8" width="14.5" height="6.5" fill="#f5c7c3"/>
<text x="806.25" y="1012" font-size="21" fill="#f4c9c6">Ti</text>
<path d="M873 1005h36" stroke="#d2cec7" stroke-width="2" stroke-dasharray="2 2"/>
<rect x="887.2" y="999.2" width="12.5" height="12.5" fill="#c7c0b3"/>
<text x="916" y="1012" font-size="21" fill="#c8c2b7">Fe</text>
<path d="M987 1005h33" stroke="#f0c6c6" stroke-width="1.8"/>
<path d="M999.0 999.5L1010.0 1010.5M999.0 1010.5L1010.0 999.5" stroke="#f0c6c6" stroke-width="1.8" fill="none"/>
<text x="1029.4" y="1012" font-size="21" fill="#f2caca">Ni</text>
<path d="M1100 1005h33" stroke="#5b80bf" stroke-width="2"/>
<circle cx="1117.5" cy="1005.4" r="5.5" fill="#5b80bf"/>
<text x="1141.9" y="1012" font-size="21" fill="#6184c2">Si</text>
<path d="M1207 1005h35" stroke="#a6adbd" stroke-width="2" stroke-dasharray="4 3"/>
<path d="M1225.5 1000.5V1011.5M1220.0 1006.0H1231.0" stroke="#a6adbd" stroke-width="2" fill="none"/>
<text x="1246.4" y="1012" font-size="21" fill="#9aa2b3">Tin</text>
<rect x="197" y="1159" width="1204" height="162" fill="url(#spec)"/>
</svg></body></html>
